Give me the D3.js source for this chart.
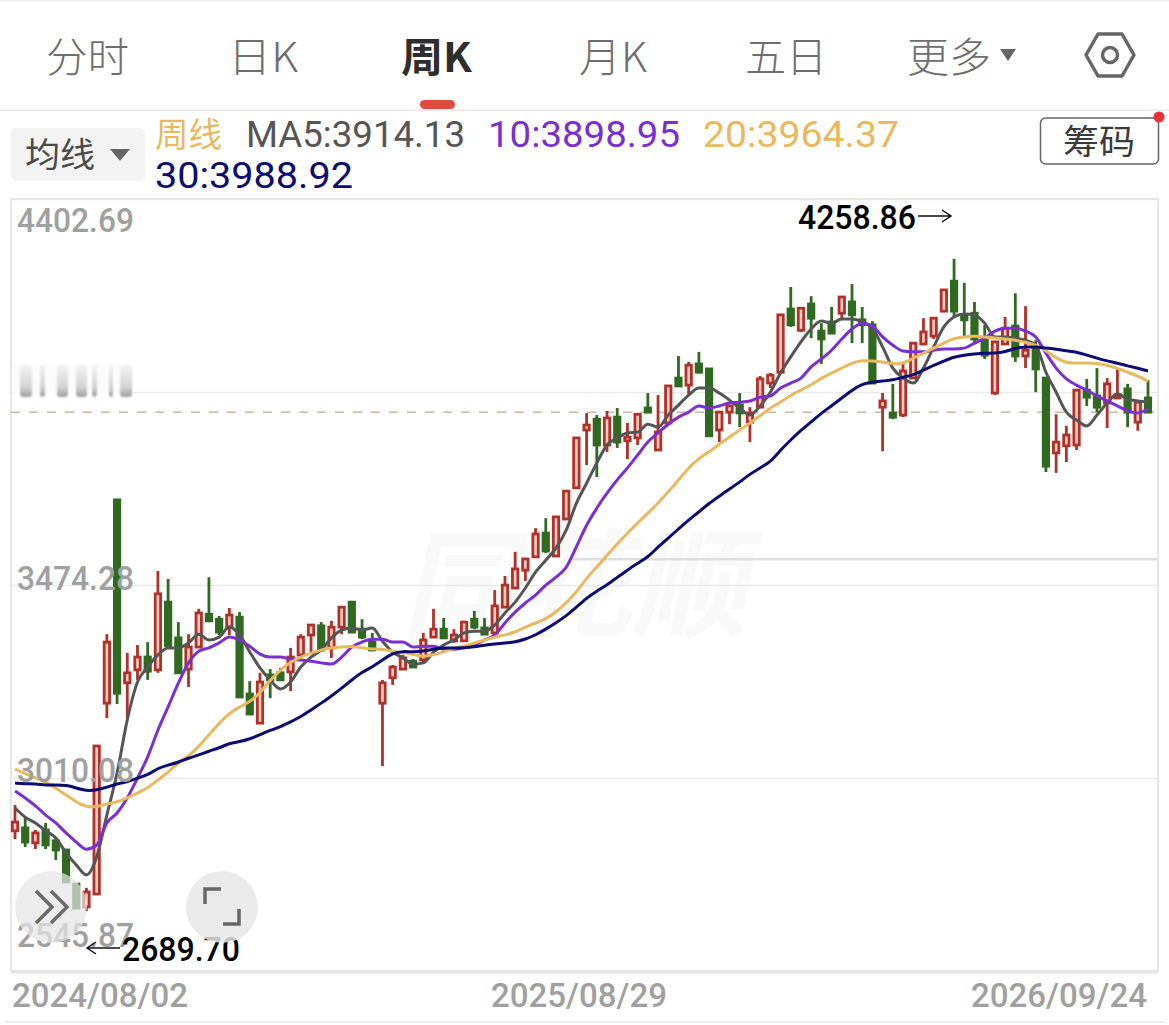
<!DOCTYPE html>
<html>
<head>
<meta charset="utf-8">
<style>
html, body { margin: 0; padding: 0; background: #fff; }
svg { display: block; }
text { font-family: Roboto, "Noto Sans CJK SC", sans-serif; }
.cjk { font-family: "Noto Sans CJK SC", sans-serif; }
</style>
<script src="https://cdn.jsdelivr.net/npm/d3@7"></script>
</head>
<body>
<svg id="chart" width="1169" height="1025"></svg>
<script>
/* global d3 */

var tabs = ["分时", "日K", "周K", "月K", "五日", "更多"];
var yTicks = [4402.69, 3474.28, 3010.08, 2545.87];
var blurredTick = 3938.49;
var dateLabels = ["2024/08/02", "2025/08/29", "2026/09/24"];
var lastClose = 3890;
var maxLabel = "4258.86";
var minLabel = "2689.70";

var highs = [2945,2916,2885,2902,2868,2837,2755,2746,3087,3356,
    3679,3311,3330,3337,3508,3489,3385,3356,3417,3493,
    3400,3419,3409,3243,3263,3272,3275,3323,3356,3380,
    3385,3388,3421,3436,3392,3359,3246,3282,3306,3296,
    3359,3417,3395,3368,3388,3412,3395,3462,3496,3554,
    3537,3611,3635,3640,3703,3830,3888,3883,3893,3900,
    3864,3888,3936,3931,3953,4025,4011,4035,3994,3893,
    3907,3936,3902,3977,3984,4124,4191,4143,4169,4104,
    4143,4167,4198,4143,4109,3936,3958,4011,4056,4116,
    4119,4184,4258.86,4201,4155,4100,4059,4119,4176,4145,
    4063,3972,3885,3857,3943,3970,3996,3972,3996,3958,
    3919,3967];

var lows = [2863,2844,2839,2839,2813,2760,2697,2689.7,2731,3154,
    3188,3154,3246,3246,3263,3325,3263,3229,3325,3385,
    3354,3354,3205,3164,3140,3202,3246,3219,3301,3313,
    3313,3299,3356,3359,3344,3315,3039,3234,3270,3275,
    3289,3347,3347,3335,3337,3368,3354,3354,3421,3465,
    3484,3542,3551,3544,3631,3705,3763,3734,3794,3804,
    3777,3811,3888,3799,3859,3953,3931,3984,3833,3818,
    3861,3854,3818,3900,3948,3986,4095,4083,4068,4006,
    4080,4112,4056,4056,3960,3796,3873,3878,3970,4051,
    4066,4133,4116,4073,4059,4018,3931,4054,4011,3996,
    3938,3746,3744,3770,3799,3905,3890,3852,3924,3854,
    3845,3890];

var opens = [2883,2890,2854,2885,2859,2837,2755,2700,2731,3190,
    3679,3239,3270,3301,3270,3433,3347,3272,3325,3404,
    3392,3373,3397,3212,3142,3258,3263,3265,3306,3354,
    3376,3323,3373,3433,3368,3337,3190,3251,3272,3291,
    3294,3349,3368,3340,3340,3392,3371,3359,3421,3467,
    3510,3542,3599,3544,3633,3708,3847,3873,3811,3878,
    3821,3828,3900,3799,3864,3972,3955,4006,3994,3847,
    3890,3907,3866,3902,3960,3986,4138,4087,4150,4085,
    4107,4128,4155,4112,4100,3902,3888,3883,3972,4054,
    4073,4133,4205,4124,4128,4063,3936,4054,4097,4025,
    4047,3972,3792,3809,3811,3943,3929,3912,3924,3946,
    3866,3924];

var closes = [2904,2856,2878,2849,2837,2760,2697,2736,3087,3337,
    3214,3263,3301,3267,3453,3328,3263,3325,3407,3388,
    3361,3402,3205,3164,3241,3246,3246,3301,3349,3378,
    3318,3373,3421,3361,3349,3318,3239,3277,3299,3277,
    3342,3368,3347,3354,3385,3373,3356,3424,3474,3513,
    3537,3597,3556,3638,3700,3828,3859,3811,3876,3818,
    3830,3885,3890,3842,3953,3953,4003,3986,3833,3890,
    3905,3888,3888,3970,3979,4124,4100,4140,4116,4066,
    4080,4167,4124,4100,3960,3917,3878,3989,4056,4083,
    4116,4184,4133,4112,4066,4027,4059,4092,4025,4039,
    3994,3760,3818,3835,3943,3926,3902,3958,3931,3890,
    3914,3890];

var ma5 = [2938,2916,2902,2883,2866,2830,2801,2777,2820,2921,
    3022,3150,3241,3277,3306,3323,3323,3335,3356,3342,
    3349,3373,3354,3313,3275,3246,3224,3241,3277,3301,
    3318,3347,3366,3371,3366,3371,3339,3313,3299,3284,
    3287,3313,3330,3342,3359,3363,3363,3378,3407,3433,
    3467,3505,3534,3563,3606,3671,3719,3768,3811,3828,
    3840,3842,3861,3854,3883,3907,3931,3948,3948,3936,
    3919,3900,3883,3905,3938,3984,4023,4059,4090,4109,
    4104,4114,4114,4107,4092,4047,3996,3972,3960,3996,
    4047,4095,4119,4126,4124,4104,4071,4071,4068,4063,
    4051,3986,3938,3890,3871,3857,3883,3912,3934,3921,
    3917,3914.13];

var ma10 = [2979,2962,2943,2921,2902,2878,2856,2839,2849,2902,
    2926,2962,3010,3061,3125,3181,3238,3287,3315,3323,
    3335,3349,3342,3327,3308,3301,3301,3296,3294,3291,
    3287,3284,3301,3325,3337,3344,3344,3337,3337,3325,
    3327,3327,3320,3320,3323,3330,3342,3354,3383,3409,
    3431,3450,3474,3493,3517,3566,3618,3659,3695,3727,
    3756,3787,3818,3840,3861,3878,3890,3905,3900,3905,
    3912,3914,3917,3926,3929,3948,3960,3972,3999,4018,
    4039,4066,4090,4104,4097,4071,4051,4037,4035,4035,
    4039,4042,4042,4044,4056,4068,4085,4092,4092,4085,
    4071,4032,3996,3970,3955,3943,3929,3917,3905,3893,
    3888,3898.95];

var ma20 = [3032,3020,3010,3001,2986,2969,2952,2940,2940,2948,
    2952,2962,2974,2986,3005,3024,3046,3063,3085,3114,
    3142,3166,3181,3193,3214,3246,3270,3289,3301,3311,
    3318,3323,3325,3327,3323,3320,3320,3315,3311,3308,
    3301,3306,3313,3323,3327,3335,3342,3349,3354,3361,
    3373,3383,3392,3409,3431,3457,3491,3517,3546,3573,
    3599,3623,3647,3671,3698,3727,3756,3780,3794,3813,
    3830,3847,3864,3881,3900,3914,3931,3943,3955,3972,
    3984,3996,4008,4015,4013,4011,4006,4006,4020,4032,
    4044,4056,4068,4071,4073,4071,4068,4066,4063,4059,
    4051,4039,4020,4008,4008,4008,4008,4003,3996,3986,
    3977,3964.37];

var ma30 = [2998,2996,2996,2993,2993,2993,2986,2979,2981,2988,
    2996,3001,3010,3017,3034,3041,3048,3058,3065,3075,
    3082,3094,3097,3104,3114,3125,3133,3145,3157,3174,
    3190,3207,3226,3246,3265,3277,3294,3311,3315,3313,
    3315,3320,3323,3323,3323,3325,3330,3332,3335,3337,
    3344,3354,3368,3383,3400,3421,3443,3460,3474,3493,
    3510,3527,3541,3566,3587,3609,3631,3650,3671,3688,
    3705,3722,3741,3756,3770,3799,3823,3847,3866,3888,
    3905,3924,3943,3958,3962,3965,3967,3974,3979,3991,
    4003,4013,4023,4027,4030,4032,4032,4035,4044,4047,
    4047,4044,4042,4037,4035,4027,4020,4013,4008,4001,
    3996,3988.92];

var colors = {
    red: "#b0302a",
    redFill: "#f9cdc1",
    green: "#2f6a20",
    ma5: "#555555",
    ma10: "#7a2fd0",
    ma20: "#e8b95f",
    ma30: "#0c0c72",
    tab: "#6e6e6e",
    axis: "#a0a0a0",
    grid: "#e9e9e9"
};

var svg = d3.select("#chart");
var frame = { left: 11, right: 1158, top: 199, bottom: 971 };

var x = d3.scaleLinear().domain([0, opens.length - 1]).range([15, 1148]);
var y = d3.scaleLinear().domain([2545.87, 4402.69]).range([frame.bottom, frame.top]);

function label(g, text, px, py, size, fill, opts) {
    opts = opts || {};
    var t = g.append("text")
        .attr("x", px)
        .attr("y", py)
        .attr("font-size", size)
        .attr("fill", fill)
        .text(text);
    if (opts.cls) t.attr("class", opts.cls);
    if (opts.weight) t.attr("font-weight", opts.weight);
    if (opts.width) {
        t.attr("textLength", opts.width).attr("lengthAdjust", "spacingAndGlyphs");
    }
    return t;
}

function drawHeader() {
    var g = svg.append("g");
    g.append("rect").attr("width", 1169).attr("height", 1.5).attr("fill", "#f0f0f0");

    var tabX = [46, 228, 401, 579, 745, 907];
    var tabW = [83, 70, 71, 68, 82, 84];
    tabs.forEach(function (name, i) {
        var active = name === "周K";
        label(g, name, tabX[i], 72, 41, active ? "#2e2e2e" : colors.tab, {
            cls: "cjk",
            weight: active ? 700 : 300,
            width: tabW[i]
        });
    });

    g.append("path").attr("d", "M1000,49 L1016,49 L1008,61 Z").attr("fill", "#666");

    // settings hexagon
    g.append("path")
        .attr("d", "M1086,55 L1098,34 L1122,34 L1134,55 L1122,76 L1098,76 Z")
        .attr("fill", "none")
        .attr("stroke", "#666")
        .attr("stroke-width", 3.5)
        .attr("stroke-linejoin", "round");
    g.append("circle").attr("cx", 1110).attr("cy", 55).attr("r", 7.5)
        .attr("fill", "none").attr("stroke", "#666").attr("stroke-width", 3.5);

    g.append("rect").attr("x", 420).attr("y", 100).attr("width", 35).attr("height", 9)
        .attr("rx", 4.5).attr("fill", "#e04a3f");
    g.append("rect").attr("x", 0).attr("y", 109.5).attr("width", 1169).attr("height", 1.5)
        .attr("fill", "#e8e8e8");

    // MA selector
    g.append("rect").attr("x", 11).attr("y", 128).attr("width", 134).attr("height", 53)
        .attr("rx", 5).attr("fill", "#f3f3f3");
    label(g, "均线", 25, 167, 34, "#4a4a4a", { cls: "cjk", width: 70 });
    g.append("path").attr("d", "M110,149 L130,149 L120,161 Z").attr("fill", "#666");

    label(g, "周线", 155, 147, 34, colors.ma20, { cls: "cjk", width: 67 });
    label(g, "MA5:3914.13", 246, 147, 36, colors.ma5, { width: 219 });
    label(g, "10:3898.95", 488, 147, 36, colors.ma10, { width: 192 });
    label(g, "20:3964.37", 703, 147, 36, colors.ma20, { width: 196 });
    label(g, "30:3988.92", 155, 188, 36, colors.ma30, { width: 198 });

    g.append("rect").attr("x", 1040.5).attr("y", 118).attr("width", 118).attr("height", 46)
        .attr("rx", 5).attr("fill", "#fff").attr("stroke", "#666").attr("stroke-width", 1.5);
    label(g, "筹码", 1063, 154, 34, "#3a3a3a", { cls: "cjk", width: 72 });
    g.append("circle").attr("cx", 1159).attr("cy", 117).attr("r", 5.5).attr("fill", "#e8323a");
}

function drawWatermark() {
    var g = svg.append("g");
    g.append("text")
        .attr("class", "cjk")
        .attr("transform", "translate(402,628) skewX(-12)")
        .attr("font-size", 118)
        .attr("font-weight", 700)
        .attr("fill", "#f9f9f9")
        .attr("textLength", 345)
        .attr("lengthAdjust", "spacingAndGlyphs")
        .text("同花顺");
    g.append("rect").attr("x", 570).attr("y", 558).attr("width", 588).attr("height", 2.5)
        .attr("fill", "#dedede");
}

function drawGrid() {
    var grid = d3.axisRight(y)
        .tickValues(yTicks.concat([blurredTick]))
        .tickSize(frame.right - frame.left)
        .tickFormat("");
    var g = svg.append("g")
        .attr("transform", "translate(" + frame.left + ",0)")
        .call(grid);
    g.select(".domain").remove();
    g.selectAll("line").attr("stroke", colors.grid).attr("stroke-width", 1.5);

    svg.append("rect")
        .attr("x", frame.left).attr("y", frame.top)
        .attr("width", frame.right - frame.left).attr("height", frame.bottom - frame.top)
        .attr("fill", "none").attr("stroke", "#e6e6e6").attr("stroke-width", 2);
    svg.append("rect").attr("x", frame.left).attr("y", frame.bottom - 1)
        .attr("width", frame.right - frame.left).attr("height", 3.5).attr("fill", "#e6e6e6");

    svg.append("line")
        .attr("x1", frame.left).attr("x2", frame.right)
        .attr("y1", y(lastClose)).attr("y2", y(lastClose))
        .attr("stroke", "#cdb79e").attr("stroke-width", 1.5)
        .attr("stroke-dasharray", "9,9");
}

function drawCandles() {
    var rows = d3.range(opens.length).map(function (i) {
        return { i: i, o: opens[i], c: closes[i], h: highs[i], l: lows[i] };
    });
    var candle = svg.append("g").selectAll("g").data(rows).join("g");
    function tone(d) {
        return d.c >= d.o ? colors.red : colors.green;
    }
    candle.append("line")
        .attr("x1", function (d) { return x(d.i); })
        .attr("x2", function (d) { return x(d.i); })
        .attr("y1", function (d) { return y(d.h); })
        .attr("y2", function (d) { return y(d.l); })
        .attr("stroke", tone)
        .attr("stroke-width", 2.8);
    candle.append("rect")
        .attr("x", function (d) { return x(d.i) - 2.7; })
        .attr("width", 5.4)
        .attr("y", function (d) { return y(Math.max(d.o, d.c)); })
        .attr("height", function (d) { return Math.abs(y(d.o) - y(d.c)); })
        .attr("fill", function (d) { return d.c >= d.o ? colors.redFill : colors.green; })
        .attr("stroke", tone)
        .attr("stroke-width", 2.8);
}

function drawAverages() {
    var sharp = d3.line()
        .x(function (d, i) { return x(i); })
        .y(function (d) { return y(d); })
        .curve(d3.curveMonotoneX);
    var soft = d3.line()
        .x(function (d, i) { return x(i); })
        .y(function (d) { return y(d); })
        .curve(d3.curveBasis);
    [[ma5, colors.ma5, sharp], [ma10, colors.ma10, sharp], [ma20, colors.ma20, soft], [ma30, colors.ma30, soft]]
        .forEach(function (s) {
            svg.append("path")
                .attr("d", s[2](s[0]))
                .attr("fill", "none")
                .attr("stroke", s[1])
                .attr("stroke-width", 3)
                .attr("stroke-linejoin", "round");
        });
}

function drawAxisText() {
    var g = svg.append("g");
    var offsets = { 4402.69: 33, 3474.28: 5, 3010.08: 4, 2545.87: -24 };
    yTicks.forEach(function (v) {
        label(g, v.toFixed(2), 17, y(v) + offsets[v], 34, colors.axis, { weight: 500, width: 117 });
    });

    // the middle price label is smeared out in the screenshot
    var defs = svg.append("defs");
    var grad = defs.append("linearGradient").attr("id", "smear")
        .attr("x1", 0).attr("x2", 0).attr("y1", 0).attr("y2", 1);
    grad.append("stop").attr("offset", "0").attr("stop-color", "#f4f4f4");
    grad.append("stop").attr("offset", "0.7").attr("stop-color", "#d2d2d2");
    grad.append("stop").attr("offset", "1").attr("stop-color", "#9c9c9c");
    defs.append("filter").attr("id", "soft")
        .append("feGaussianBlur").attr("stdDeviation", 1.2);
    g.append("rect").attr("x", 13).attr("y", 364).attr("width", 120).attr("height", 30).attr("fill", "#fbfbfb");
    var smearX = [[20, 12], [40, 5], [57, 11], [76, 11], [92, 5], [109, 4], [120, 12]];
    smearX.forEach(function (b) {
        g.append("rect")
            .attr("x", b[0]).attr("y", 365).attr("width", b[1]).attr("height", 32)
            .attr("rx", 3).attr("fill", "url(#smear)").attr("filter", "url(#soft)");
    });

    var dateX = [12, 491, 971];
    dateLabels.forEach(function (d, i) {
        label(g, d, dateX[i], 1007, 34, colors.axis, { weight: 500, width: 176 });
    });
    g.append("rect").attr("x", 5).attr("y", 1021).attr("width", 1160).attr("height", 2).attr("fill", "#ececec");

    // high and low markers
    label(g, maxLabel, 798, 229, 33, "#000", { weight: 500, width: 118 });
    g.append("path").attr("d", "M918,216 L950,216 M942,210 L951,216 L942,222")
        .attr("fill", "none").attr("stroke", "#111").attr("stroke-width", 1.5);

    label(g, minLabel, 122, 961, 33, "#000", { weight: 500, width: 118 });
    g.append("path").attr("d", "M120,948 L88,948 M96,942 L87,948 L96,954")
        .attr("fill", "none").attr("stroke", "#111").attr("stroke-width", 1.5);
}

function drawButtons() {
    var g = svg.append("g");
    g.append("circle").attr("cx", 51).attr("cy", 907).attr("r", 36)
        .attr("fill", "#e4e4e4").attr("fill-opacity", 0.72);
    g.append("path").attr("d", "M36,891 L52,907 L36,923 M51,891 L67,907 L51,923")
        .attr("fill", "none").attr("stroke", "#6a6a6a").attr("stroke-width", 3.5);
    g.append("circle").attr("cx", 222).attr("cy", 907).attr("r", 36)
        .attr("fill", "#e6e6e6").attr("fill-opacity", 0.85);
    g.append("path").attr("d", "M205,904 L205,889 L221,889 M239,909 L239,924 L223,924")
        .attr("fill", "none").attr("stroke", "#666").attr("stroke-width", 3.5);
}

drawHeader();
drawWatermark();
drawGrid();
drawCandles();
drawAverages();
drawAxisText();
drawButtons();
</script>
</body>
</html>
